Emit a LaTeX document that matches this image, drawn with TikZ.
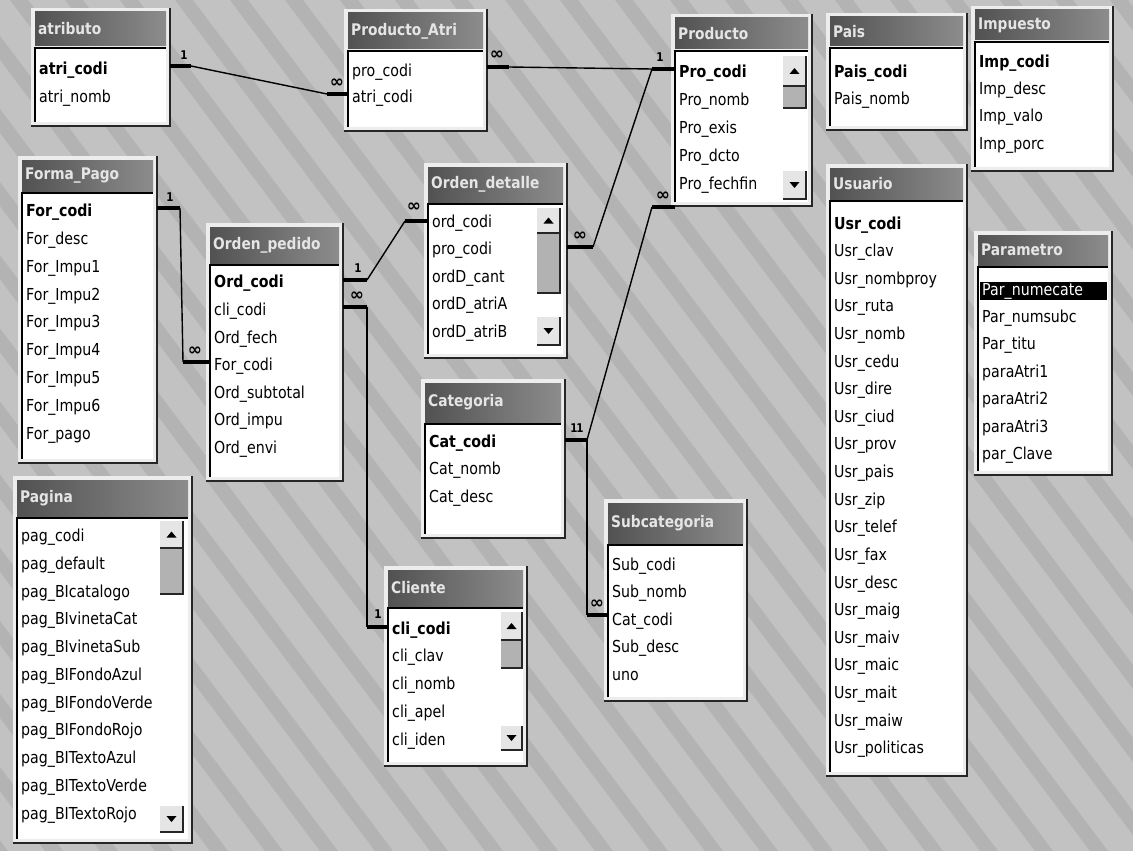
\documentclass[tikz,border=0pt]{standalone}
\usepackage{fontspec}
\newfontfamily\tf[FakeStretch=0.86]{DejaVu Sans}
\newfontfamily\sy{DejaVu Sans}
\tikzset{
  fld/.style={anchor=west, inner sep=0pt, text=black, font=\tf\fontsize{16.5}{18}\selectfont},
  kfld/.style={fld, font=\tf\bfseries\fontsize{16.5}{18}\selectfont},
  ttl/.style={anchor=west, inner sep=0pt, text=black!10, font=\tf\bfseries\fontsize{16}{18}\selectfont},
  rel/.style={line width=1.4pt, black},
  stub/.style={line width=4pt, black},
  onelbl/.style={inner sep=0pt, font=\tf\bfseries\fontsize{12}{12}\selectfont},
  manylbl/.style={inner sep=0pt, font=\sy\bfseries\fontsize{17}{17}\selectfont},
}
% #1 name, #2 x1, #3 x2, #4 title top, #5 body top, #6 body bottom, #7 title
\newcommand\dbtab[7]{%
  \fill[black!7] (#2-4,#4-4) rectangle (#3,#6+3);
  \draw[black!85, line width=1.6pt] (#3,#4-4) -- (#3,#6+3) -- (#2-4,#6+3);
  \shade[left color=black!68, right color=black!45] (#2,#4) rectangle (#3-4,#5-2);
  \node[ttl] (#1) at (#2+3,{(#4+#5)/2-1}) {#7};
  \fill[white] (#2,#5) rectangle (#3-4,#6-1);
  \draw[black, line width=1.4pt] (#2,#6-1) -- (#2,#5) -- (#3-4,#5);
}
% scrollbar: #1 x1, #2 x2, #3 up top, #4 up bottom, #5 thumb bottom, #6 down top, #7 down bottom
\newcommand\scrl[7]{%
  \fill[black!10] (#1,#3) rectangle (#2,#4);
  \draw[black!85, line width=1.2pt] (#1,#4) -- (#2,#4) -- (#2,#3);
  \fill[black] ({(#1+#2)/2-5},{(#3+#4)/2+3}) -- ({(#1+#2)/2+5},{(#3+#4)/2+3}) -- ({(#1+#2)/2},{(#3+#4)/2-3}) -- cycle;
  \fill[black!30] (#1,#4+1) rectangle (#2,#5);
  \draw[black!85, line width=1.2pt] (#1,#5) -- (#2,#5) -- (#2,#4+1);
  \fill[black!10] (#1,#6) rectangle (#2,#7);
  \draw[black!85, line width=1.2pt] (#1,#7) -- (#2,#7) -- (#2,#6);
  \fill[black] ({(#1+#2)/2-5},{(#6+#7)/2-3}) -- ({(#1+#2)/2+5},{(#6+#7)/2-3}) -- ({(#1+#2)/2},{(#6+#7)/2+3}) -- cycle;
}
\newcommand\fl[5][]{\node[fld,#1] (#2) at (#3,#4) {#5};}
\newcommand\kf[4]{\node[kfld] (#1) at (#2,#3) {#4};}
\begin{document}
\begin{tikzpicture}[x=1pt,y=-1pt]
\fill[black!24] (0,0) rectangle (1133,851);
\useasboundingbox (0,0) rectangle (1133,851);
% diagonal texture bands
\begin{scope}
\clip (0,0) rectangle (1133,851);
\foreach \s in {-760,-705,...,1200} {
  \fill[black!40, opacity=0.35] (\s,0) -- (\s+18,0) -- (\s+658,851) -- (\s+640,851) -- cycle;
}
\end{scope}

% ---------------- tables ----------------
\dbtab{atributo}{35}{170}{12}{48}{123}{atributo}
\kf{atricodiA}{39}{70}{atri\_codi}
\fl{atrinombA}{39}{98}{atri\_nomb}

\dbtab{productoatri}{348}{487}{13}{51}{128}{Producto\_Atri}
\fl{procodiPA}{352}{72}{pro\_codi}
\fl{atricodiPA}{352}{98}{atri\_codi}

\dbtab{producto}{675}{812}{18}{51}{203}{Producto}
\kf{procodiP}{679}{73}{Pro\_codi}
\fl{pronombP}{679}{101}{Pro\_nomb}
\fl{proexisP}{679}{129}{Pro\_exis}
\fl{prodctoP}{679}{157}{Pro\_dcto}
\fl{profechP}{679}{185}{Pro\_fechfin}
\scrl{783}{806}{56}{86}{108}{171}{199}

\dbtab{pais}{830}{967}{17}{48}{127}{Pais}
\kf{paiscodi}{834}{73}{Pais\_codi}
\fl{paisnomb}{834}{100}{Pais\_nomb}

\dbtab{impuesto}{975}{1113}{10}{42}{168}{Impuesto}
\kf{impcodi}{979}{63}{Imp\_codi}
\fl{impdesc}{979}{90}{Imp\_desc}
\fl{impvalo}{979}{117}{Imp\_valo}
\fl{impporc}{979}{145}{Imp\_porc}

\dbtab{formapago}{22}{157}{160}{193}{460}{Forma\_Pago}
\kf{forcodiF}{26}{212}{For\_codi}
\fl{fordesc}{26}{240}{For\_desc}
\fl{forimpu1}{26}{268}{For\_Impu1}
\fl{forimpu2}{26}{296}{For\_Impu2}
\fl{forimpu3}{26}{323}{For\_Impu3}
\fl{forimpu4}{26}{351}{For\_Impu4}
\fl{forimpu5}{26}{379}{For\_Impu5}
\fl{forimpu6}{26}{407}{For\_Impu6}
\fl{forpago}{26}{435}{For\_pago}

\dbtab{ordenpedido}{210}{343}{227}{265}{478}{Orden\_pedido}
\kf{ordcodiO}{214}{283}{Ord\_codi}
\fl{clicodiO}{214}{311}{cli\_codi}
\fl{ordfech}{214}{339}{Ord\_fech}
\fl{forcodiO}{214}{366}{For\_codi}
\fl{ordsubt}{214}{394}{Ord\_subtotal}
\fl{ordimpu}{214}{421}{Ord\_impu}
\fl{ordenvi}{214}{449}{Ord\_envi}

\dbtab{ordendetalle}{428}{567}{167}{204}{355}{Orden\_detalle}
\fl{ordcodiD}{432}{223}{ord\_codi}
\fl{procodiD}{432}{250}{pro\_codi}
\fl{orddcant}{432}{278}{ordD\_cant}
\fl{orddatria}{432}{305}{ordD\_atriA}
\fl{orddatrib}{432}{333}{ordD\_atriB}
\scrl{537}{560}{208}{233}{293}{317}{345}

\dbtab{categoria}{425}{565}{383}{424}{535}{Categoria}
\kf{catcodiC}{429}{443}{Cat\_codi}
\fl{catnomb}{429}{470}{Cat\_nomb}
\fl{catdesc}{429}{498}{Cat\_desc}

\dbtab{pagina}{17}{192}{480}{518}{840}{Pagina}
\fl{pagcodi}{21}{537}{pag\_codi}
\fl{pagdefault}{21}{565}{pag\_default}
\fl{pagcat}{21}{593}{pag\_BIcatalogo}
\fl{pagvcat}{21}{620}{pag\_BIvinetaCat}
\fl{pagvsub}{21}{648}{pag\_BIvinetaSub}
\fl{pagfazul}{21}{676}{pag\_BIFondoAzul}
\fl{pagfverde}{21}{704}{pag\_BIFondoVerde}
\fl{pagfrojo}{21}{731}{pag\_BIFondoRojo}
\fl{pagtazul}{21}{759}{pag\_BITextoAzul}
\fl{pagtverde}{21}{787}{pag\_BITextoVerde}
\fl{pagtrojo}{21}{815}{pag\_BITextoRojo}
\scrl{160}{183}{521}{548}{594}{806}{832}

\dbtab{cliente}{388}{527}{570}{608}{763}{Cliente}
\kf{clicodiC}{392}{630}{cli\_codi}
\fl{cliclav}{392}{657}{cli\_clav}
\fl{clinomb}{392}{685}{cli\_nomb}
\fl{cliapel}{392}{713}{cli\_apel}
\fl{cliiden}{392}{741}{cli\_iden}
\scrl{501}{522}{612}{640}{668}{726}{750}

\dbtab{subcategoria}{608}{747}{503}{545}{698}{Subcategoria}
\fl{subcodi}{612}{566}{Sub\_codi}
\fl{subnomb}{612}{593}{Sub\_nomb}
\fl{catcodiS}{612}{621}{Cat\_codi}
\fl{subdesc}{612}{648}{Sub\_desc}
\fl{uno}{612}{676}{uno}

\dbtab{usuario}{830}{967}{168}{201}{773}{Usuario}
\kf{usrcodi}{834}{225}{Usr\_codi}
\fl{usrclav}{834}{252.6}{Usr\_clav}
\fl{usrnombproy}{834}{280.2}{Usr\_nombproy}
\fl{usrruta}{834}{307.8}{Usr\_ruta}
\fl{usrnomb}{834}{335.4}{Usr\_nomb}
\fl{usrcedu}{834}{363}{Usr\_cedu}
\fl{usrdire}{834}{390.6}{Usr\_dire}
\fl{usrciud}{834}{418.2}{Usr\_ciud}
\fl{usrprov}{834}{445.8}{Usr\_prov}
\fl{usrpais}{834}{473.4}{Usr\_pais}
\fl{usrzip}{834}{501}{Usr\_zip}
\fl{usrtelef}{834}{528.6}{Usr\_telef}
\fl{usrfax}{834}{556.2}{Usr\_fax}
\fl{usrdesc}{834}{583.8}{Usr\_desc}
\fl{usrmaig}{834}{611.4}{Usr\_maig}
\fl{usrmaiv}{834}{639}{Usr\_maiv}
\fl{usrmaic}{834}{666.6}{Usr\_maic}
\fl{usrmait}{834}{694.2}{Usr\_mait}
\fl{usrmaiw}{834}{721.8}{Usr\_maiw}
\fl{usrpoliticas}{834}{749.4}{Usr\_politicas}

\dbtab{parametro}{978}{1112}{235}{267}{472}{Parametro}
\fill[black] (980,282) rectangle (1107,300);
\fl[text=white]{parnumecate}{982}{291}{Par\_numecate}
\fl{parnumsubc}{982}{318}{Par\_numsubc}
\fl{partitu}{982}{345}{Par\_titu}
\fl{paraatri1}{982}{373}{paraAtri1}
\fl{paraatri2}{982}{400}{paraAtri2}
\fl{paraatri3}{982}{428}{paraAtri3}
\fl{parclave}{982}{455}{par\_Clave}

% ---------------- relationship end points ----------------
\coordinate (r1a) at (170,66);  \coordinate (r1b) at (348,94);
\coordinate (r2a) at (487,67);  \coordinate (r2b) at (675,69);
\coordinate (r3b) at (567,247);
\coordinate (r4a) at (675,207); \coordinate (r4b) at (565,440);
\coordinate (r5b) at (608,615);
\coordinate (r6a) at (157,208); \coordinate (r6b) at (210,362);
\coordinate (r7a) at (343,280); \coordinate (r7b) at (428,221);
\coordinate (r8a) at (343,307); \coordinate (r8b) at (388,627);

% atributo - Producto_Atri
\draw[stub] (r1a) -- ++(21,0) coordinate (r1ak);
\draw[stub] (r1b) -- ++(-21,0) coordinate (r1bk);
\draw[rel] (r1ak) -- (r1bk);
% Producto_Atri - Producto
\draw[stub] (r2a) -- ++(22,0) coordinate (r2ak);
\draw[stub] (r2b) -- ++(-23,0) coordinate (r2bk);
\draw[rel] (r2ak) -- (r2bk);
% Producto - Orden_detalle
\draw[stub] (r3b) -- ++(26,0) coordinate (r3bk);
\draw[rel] (r2bk) -- (r3bk);
% Producto - Categoria
\draw[stub] (r4a) -- ++(-23,0) coordinate (r4ak);
\draw[stub] (r4b) -- ++(22,0) coordinate (r4bk);
\draw[rel] (r4ak) -- (r4bk);
% Categoria - Subcategoria
\draw[stub] (r5b) -- ++(-21,0) coordinate (r5bk);
\draw[rel] (r4bk) -- (r5bk);
% Forma_Pago - Orden_pedido
\draw[stub] (r6a) -- ++(23,0) coordinate (r6ak);
\draw[stub] (r6b) -- ++(-27,0) coordinate (r6bk);
\draw[rel] (r6ak) -- (r6bk);
% Orden_pedido - Orden_detalle
\draw[stub] (r7a) -- ++(24,0) coordinate (r7ak);
\draw[stub] (r7b) -- ++(-23,0) coordinate (r7bk);
\draw[rel] (r7ak) -- (r7bk);
% Orden_pedido - Cliente
\draw[stub] (r8a) -- ++(24,0) coordinate (r8ak);
\draw[stub] (r8b) -- ++(-21,0) coordinate (r8bk);
\draw[rel] (r8ak) -- (r8bk);

% ---------------- cardinality labels ----------------
\node[onelbl] (l1a) at (184,55) {1};
\node[manylbl] (l1b) at (337,83) {∞};
\node[manylbl] (l2a) at (497,55) {∞};
\node[onelbl] (l2b) at (660,57) {1};
\node[manylbl] (l3b) at (580,236) {∞};
\node[manylbl] (l4a) at (663,196) {∞};
\node[onelbl] (l4b) at (574,428) {1};
\node[onelbl] (l5a) at (580,428) {1};
\node[manylbl] (l5b) at (597,604) {∞};
\node[onelbl] (l6a) at (170,197) {1};
\node[manylbl] (l6b) at (195,351) {∞};
\node[onelbl] (l7a) at (358,268) {1};
\node[manylbl] (l7b) at (414,207) {∞};
\node[manylbl] (l8a) at (357,296) {∞};
\node[onelbl] (l8b) at (378,614) {1};
\end{tikzpicture}
\end{document}
